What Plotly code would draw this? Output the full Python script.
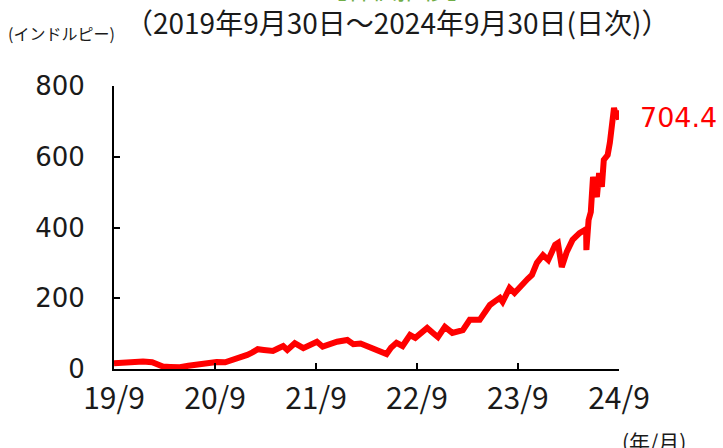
import plotly.graph_objects as go

dates = [
    "2019-09-30", "2019-10-20", "2019-11-09", "2019-12-10", "2020-01-13", "2020-02-15",
    "2020-03-10", "2020-03-25", "2020-04-20", "2020-05-25", "2020-06-25", "2020-08-05",
    "2020-09-05", "2020-10-05", "2020-11-05", "2020-12-03", "2020-12-28", "2021-01-24",
    "2021-02-12", "2021-03-03", "2021-03-25", "2021-04-27", "2021-05-15", "2021-06-03",
    "2021-06-18", "2021-07-15", "2021-08-15", "2021-09-10", "2021-10-03", "2021-10-24",
    "2021-11-20", "2021-12-15", "2022-01-21", "2022-02-12", "2022-03-10", "2022-04-03",
    "2022-05-06", "2022-05-25", "2022-06-12", "2022-06-28", "2022-07-18", "2022-08-09",
    "2022-09-05", "2022-09-24", "2022-10-15", "2022-11-06", "2022-11-27", "2022-12-15",
    "2023-01-09", "2023-02-05", "2023-03-15", "2023-04-09", "2023-05-15", "2023-06-01",
    "2023-06-21", "2023-07-10", "2023-07-27", "2023-08-06", "2023-08-31", "2023-09-18",
    "2023-10-18", "2023-11-05", "2023-11-20", "2023-12-08", "2023-12-30", "2024-01-18",
    "2024-02-12", "2024-02-22", "2024-03-07", "2024-03-25", "2024-04-15", "2024-05-10",
    "2024-06-03", "2024-06-04", "2024-06-12", "2024-06-20", "2024-06-28", "2024-07-12",
    "2024-07-20", "2024-07-30", "2024-08-06", "2024-08-20", "2024-08-28", "2024-09-05",
    "2024-09-12", "2024-09-19", "2024-09-24", "2024-09-30",
]
prices = [
    16, 17, 18, 20, 21, 19,
    14, 7, 6, 5, 9, 14,
    15, 20, 19, 25, 30, 40,
    47, 56, 54, 51, 58, 65,
    54, 73, 59, 68, 77, 63,
    70, 77, 82, 70, 72, 65,
    54, 50, 42, 60, 74, 65,
    96, 88, 100, 116, 102, 90,
    119, 102, 110, 139, 139, 160,
    181, 192, 201, 190, 229, 215,
    243, 255, 266, 300, 322, 308,
    351, 356, 288, 331, 365, 384,
    395, 336, 421, 444, 543, 486,
    554, 515, 591, 605, 640, 690,
    738, 715, 730, 704.4,
]

xtick_vals = ["2019-09-30", "2020-09-30", "2021-09-30", "2022-09-30", "2023-09-30", "2024-09-30"]
xtick_text = ["19/9", "20/9", "21/9", "22/9", "23/9", "24/9"]
ytick_vals = [0, 200, 400, 600, 800]

last_label = "704.4"
title_text = "【株価推移】"
subtitle_text = "（2019年9月30日～2024年9月30日(日次)）"
yunit_text = "(インドルピー)"
xunit_text = "(年/月)"

jp = "Noto Sans CJK JP"
lat = "DejaVu Sans"

fig = go.Figure()
fig.add_trace(go.Scatter(
    x=dates, y=prices, mode="lines",
    line=dict(color="#FF0000", width=6),
    hoverinfo="skip", showlegend=False,
))

L, R, T, B = 114, 104, 86, 79
PW, PH = 723 - L - R, 448 - T - B


def px(x):
    return (x - L) / PW


def py(y):
    return (448 - B - y) / PH


fig.update_layout(
    width=723, height=448,
    margin=dict(l=L, r=R, t=T, b=B, autoexpand=False),
    paper_bgcolor="white", plot_bgcolor="white",
    font=dict(family=jp, color="#1a1a1a"),
    xaxis=dict(
        range=["2019-09-30", "2024-09-30"],
        tickvals=xtick_vals, ticktext=xtick_text,
        ticks="inside", ticklen=6, tickwidth=1.5, tickcolor="black",
        showline=True, linecolor="black", linewidth=2,
        showgrid=False, zeroline=False, automargin=False,
        tickfont=dict(family=jp, size=30, color="#1a1a1a"),
        ticklabelstandoff=2,
    ),
    yaxis=dict(
        range=[0, 800],
        tickvals=ytick_vals,
        ticks="inside", ticklen=6, tickwidth=1.5, tickcolor="black",
        showline=True, linecolor="black", linewidth=2,
        showgrid=False, zeroline=False, automargin=False,
        tickfont=dict(family=lat, size=26, color="#1a1a1a"),
        ticklabelstandoff=22,
    ),
    annotations=[
        dict(text=title_text, xref="paper", yref="paper", x=px(397),
             y=py(-12), xanchor="center", yanchor="middle",
             showarrow=False, font=dict(family=jp, size=25, color="#70AD47")),
        dict(text=subtitle_text, xref="paper", yref="paper", x=px(397),
             y=py(22), xanchor="center", yanchor="middle",
             showarrow=False, font=dict(family=jp, size=28, color="#1a1a1a")),
        dict(text=yunit_text, xref="paper", yref="paper", x=px(6),
             y=py(33), xanchor="left", yanchor="middle",
             showarrow=False, font=dict(family=jp, size=16, color="#1a1a1a")),
        dict(text=xunit_text, xref="paper", yref="paper", x=px(688),
             y=py(441), xanchor="right", yanchor="middle",
             showarrow=False, font=dict(family=jp, size=21, color="#1a1a1a")),
        dict(text=last_label, xref="paper", yref="paper", x=px(638),
             y=py(117), xanchor="left", yanchor="middle",
             showarrow=False, font=dict(family=lat, size=27, color="#FF0000")),
    ],
)

fig.write_html(
    "out.html",
    config={"displayModeBar": False},
    post_script="document.body.style.margin='0';document.body.style.overflow='hidden';",
)
